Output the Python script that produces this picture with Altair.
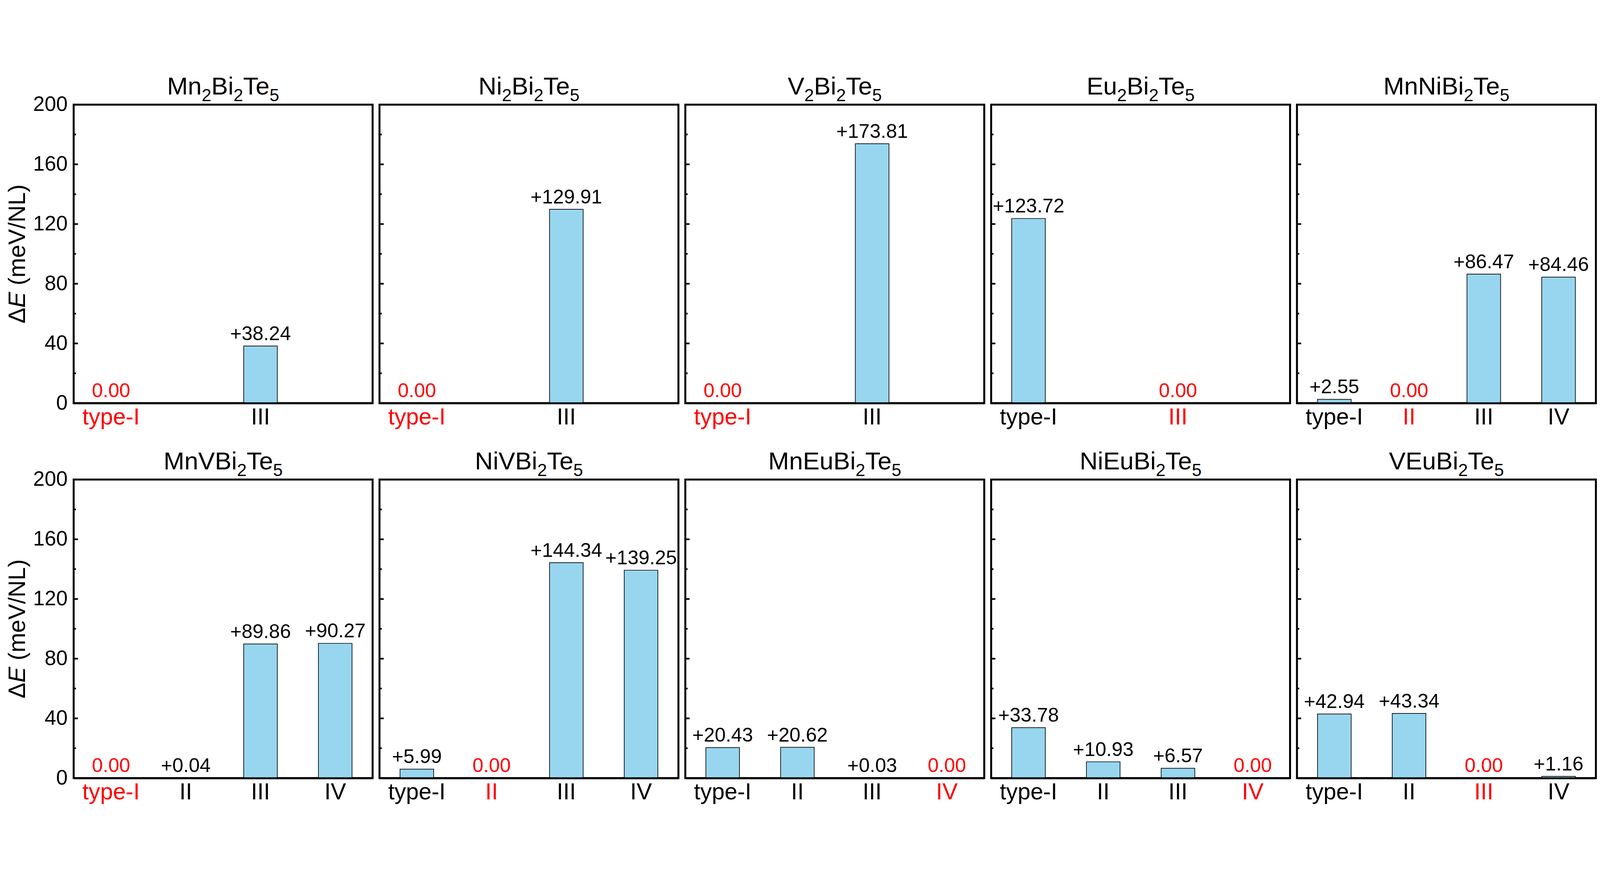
import re
import altair as alt
import pandas as pd

FONT = "Liberation Sans"
CATEGORIES = ["type-I", "II", "III", "IV"]

# panel titles (digits are drawn as subscripts)
titles = ["Mn2Bi2Te5", "Ni2Bi2Te5", "V2Bi2Te5", "Eu2Bi2Te5", "MnNiBi2Te5",
          "MnVBi2Te5", "NiVBi2Te5", "MnEuBi2Te5", "NiEuBi2Te5", "VEuBi2Te5"]

panel_categories = [
    ["type-I", "III"],
    ["type-I", "III"],
    ["type-I", "III"],
    ["type-I", "III"],
    ["type-I", "II", "III", "IV"],
    ["type-I", "II", "III", "IV"],
    ["type-I", "II", "III", "IV"],
    ["type-I", "II", "III", "IV"],
    ["type-I", "II", "III", "IV"],
    ["type-I", "II", "III", "IV"],
]

panel_values = [
    [0.00, 38.24],
    [0.00, 129.91],
    [0.00, 173.81],
    [123.72, 0.00],
    [2.55, 0.00, 86.47, 84.46],
    [0.00, 0.04, 89.86, 90.27],
    [5.99, 0.00, 144.34, 139.25],
    [20.43, 20.62, 0.03, 0.00],
    [33.78, 10.93, 6.57, 0.00],
    [42.94, 43.34, 0.00, 1.16],
]

y_label_values = [0, 40, 80, 120, 160, 200]
y_major_ticks = [40, 80, 120, 160]
y_minor_ticks = [20, 60, 100, 140, 180]
y_title_pieces = ["Δ", "E", "(meV/NL)"]
y_title_styles = ["normal", "italic", "normal"]

W, H = 911, 910
BAR_COLOR = "#98D6F0"
YT_FS = 72
TITLE_FS = 76
SUB_FS = 53

# Arial / Liberation Sans advance widths (em) and kerning pairs
ADV = {"M": 0.833, "n": 0.556, "B": 0.667, "i": 0.222, "T": 0.611, "e": 0.556,
       "N": 0.722, "V": 0.667, "E": 0.667, "u": 0.556}
KERN = {"Te": -0.111}


def seg_width(s, sub):
    if sub:
        return 0.556 * SUB_FS * len(s)
    w = sum(ADV.get(c, 0.6) for c in s)
    w += sum(KERN.get(s[k:k + 2], 0.0) for k in range(len(s) - 1))
    return w * TITLE_FS


def title_layers(text):
    segs = re.findall(r"[A-Za-z]+|\d+", text)
    subs = [s.isdigit() for s in segs]
    widths = [seg_width(s, b) for s, b in zip(segs, subs)]
    x0 = W / 2 - sum(widths) / 2
    out = []
    for s, b, w in zip(segs, subs, widths):
        out.append(
            alt.Chart(pd.DataFrame({"t": [s]})).mark_text(
                align="left", baseline="alphabetic", font=FONT,
                fontSize=SUB_FS if b else TITLE_FS, color="black",
            ).encode(x=alt.value(x0), y=alt.value(-11 if b else -31), text="t:N")
        )
        x0 += w
    return out


def make_panel(idx, first_col):
    cats = panel_categories[idx]
    vals = panel_values[idx]
    df = pd.DataFrame({"cat": cats, "val": vals})
    df["label"] = ["0.00" if v == 0 else "+%.2f" % v for v in vals]
    ground = [c for c, v in zip(cats, vals) if v == 0]
    ground_js = "[" + ",".join("'%s'" % g for g in ground) + "]"

    yscale = alt.Scale(domain=[0, 200], nice=False, zero=True)
    x = alt.X(
        "cat:N",
        sort=CATEGORIES,
        scale=alt.Scale(domain=CATEGORIES, paddingInner=0.55, paddingOuter=0.275),
        axis=alt.Axis(
            title=None, values=cats, labelAngle=0, labelFont=FONT, labelFontSize=70,
            labelPadding=9, ticks=False, domain=True, domainColor="black",
            domainWidth=6, zindex=1, grid=False,
            labelColor={"condition": {"test": "indexof(%s, datum.value) >= 0" % ground_js,
                                      "value": "#FF0000"},
                        "value": "#000000"},
        ),
    )

    if first_col:
        left_axis = alt.Axis(
            title=None, values=y_label_values, labelFont=FONT, labelFontSize=63,
            labelPadding=19, ticks=False, tickSize=0, domain=False, grid=False,
            labelColor="black", labelFlush=False, labelOverlap=False, orient="left",
        )
    else:
        left_axis = None

    bars = alt.Chart(df).mark_bar(fill=BAR_COLOR, stroke="black", strokeWidth=2).encode(
        x=x, y=alt.Y("val:Q", scale=yscale, axis=left_axis)
    )
    texts = alt.Chart(df).mark_text(
        dy=-18, baseline="alphabetic", font=FONT, fontSize=60
    ).encode(
        x=x,
        y=alt.Y("val:Q", scale=yscale),
        text="label:N",
        color=alt.condition("datum.val == 0", alt.value("#FF0000"), alt.value("#000000")),
    )
    major = alt.Chart(pd.DataFrame({"v": y_major_ticks})).mark_rule(
        color="black", strokeWidth=5
    ).encode(y=alt.Y("v:Q", scale=yscale), x=alt.value(0), x2=alt.value(13))
    minor = alt.Chart(pd.DataFrame({"v": y_minor_ticks})).mark_rule(
        color="black", strokeWidth=5
    ).encode(y=alt.Y("v:Q", scale=yscale), x=alt.value(0), x2=alt.value(7))

    layers = [bars, texts, major, minor] + title_layers(titles[idx])

    if first_col:
        fs = YT_FS
        w_delta = 0.667 * fs
        w_e = 0.667 * fs
        w_space = 0.278 * fs
        total = w_delta + w_e + 4.556 * fs
        y0 = H / 2 + total / 2
        starts = [y0, y0 - w_delta, y0 - w_delta - w_e - w_space]
        for piece, start, style in zip(y_title_pieces, starts, y_title_styles):
            layers.append(
                alt.Chart(pd.DataFrame({"t": [piece]})).mark_text(
                    angle=270, align="left", baseline="alphabetic", font=FONT,
                    fontSize=fs, fontStyle=style, color="black",
                ).encode(x=alt.value(-148), y=alt.value(start), text="t:N")
            )

    return alt.layer(*layers).properties(width=W, height=H)


row1 = alt.hconcat(*[make_panel(i, i == 0) for i in range(5)], spacing=12)
row2 = alt.hconcat(*[make_panel(i, i == 5) for i in range(5, 10)], spacing=12)

chart = alt.vconcat(row1, row2, spacing=57).properties(
    padding={"left": 5, "top": 2, "right": 0, "bottom": 0},
    background="white",
).configure_view(stroke="black", strokeWidth=6)

chart.save("out.html", embed_options={"renderer": "svg", "actions": False})
